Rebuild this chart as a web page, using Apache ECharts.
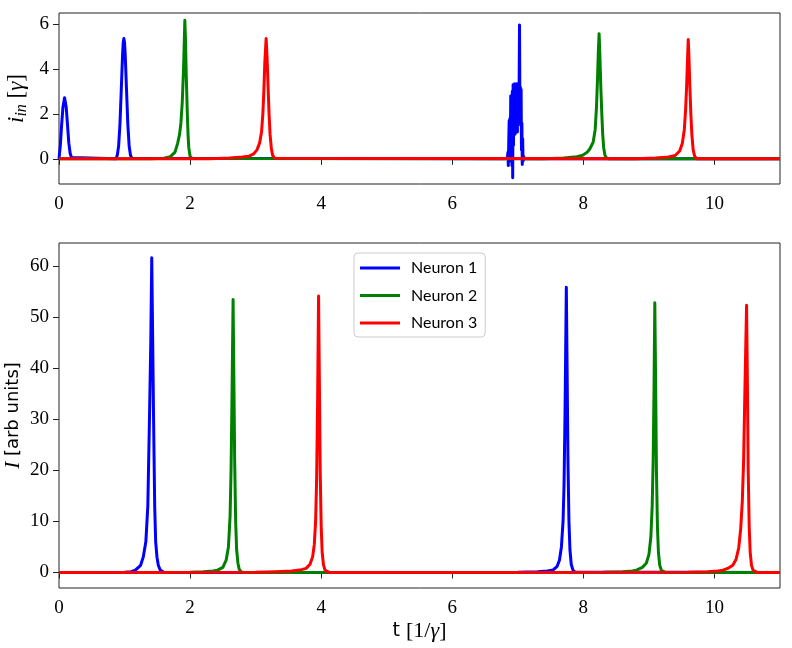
<!DOCTYPE html>
<html>
<head>
<meta charset="utf-8">
<script src="https://cdn.jsdelivr.net/npm/echarts@6/dist/echarts.min.js"></script>
<style>html,body{margin:0;padding:0;background:#fff}#c{width:792px;height:648px}</style>
</head>
<body>
<div id="c"></div>
<script>
// ---- data ----
const seriesNames = ['Neuron 1', 'Neuron 2', 'Neuron 3'];
const seriesColors = ['#0000ff', '#008000', '#ff0000'];
const xTicks = [0, 2, 4, 6, 8, 10];
const topYTicks = [0, 2, 4, 6];
const botYTicks = [0, 10, 20, 30, 40, 50, 60];

// top panel: input current i_in [gamma]
const top1 = [[0,0],[0.02,0.6],[0.04,1.5],[0.06,2.3],[0.085,2.72],[0.11,2.3],[0.13,1.5],[0.15,0.7],[0.17,0.25],[0.19,0.06],[0.21,0],
  [0.87,0],[0.89,0.17],[0.91,0.58],[0.93,1.55],[0.95,3.08],[0.97,4.66],[0.98,5.18],[0.99,5.36],[1.0,5.18],[1.01,4.66],[1.03,3.08],[1.05,1.55],[1.07,0.58],[1.09,0.17],[1.11,0.03],[1.13,0],
  [6.80,0],[6.84,0.05],[6.85,0.3],[6.855,-0.3],[6.862,0.8],[6.868,1.7],[6.874,-0.1],[6.88,1.8],[6.886,0.4],[6.892,2.8],[6.898,0.9],[6.904,2.7],[6.91,-0.3],[6.916,3.0],[6.922,-0.84],[6.928,3.3],[6.934,0.6],[6.94,3.2],[6.946,1.4],[6.952,3.35],[6.958,1.1],[6.964,3.3],[6.97,1.5],[6.976,3.2],[6.982,1.3],[6.988,3.35],[6.994,1.2],[7.0,3.3],[7.006,1.5],[7.012,3.2],[7.018,2.4],[7.026,5.96],[7.032,2.2],[7.038,3.2],[7.044,1.6],[7.05,3.1],[7.056,0.4],[7.062,1.6],[7.068,-0.25],[7.074,0.9],[7.08,-0.1],[7.09,0.1],[7.1,0],
  [11,0]];
const top2 = [[0,0],[1.4,0.01],[1.6,0.03],[1.7,0.1],[1.73,0.16],[1.77,0.3],[1.81,0.69],[1.84,1.1],[1.86,1.6],[1.88,2.5],[1.90,4.0],[1.91,5.1],[1.92,6.18],[1.93,5.3],[1.94,3.9],[1.95,2.8],[1.96,1.8],[1.97,1.0],[1.98,0.5],[2.0,0.12],[2.03,0.02],[2.06,0],
  [7.4,0.01],[7.7,0.04],[7.9,0.1],[7.99,0.16],[8.06,0.3],[8.1,0.45],[8.15,0.75],[8.18,1.3],[8.2,2.3],[8.215,3.5],[8.23,4.9],[8.24,5.58],[8.25,4.8],[8.265,3.3],[8.28,2.1],[8.295,1.1],[8.31,0.5],[8.33,0.15],[8.36,0.02],[8.4,0],
  [11,0]];
const top3 = [[0,0],[2.3,0.01],[2.6,0.04],[2.8,0.08],[2.9,0.12],[2.97,0.22],[3.02,0.4],[3.06,0.7],[3.09,1.2],[3.11,2.0],[3.125,3.0],[3.14,4.3],[3.16,5.36],[3.175,4.5],[3.19,3.2],[3.205,2.0],[3.22,1.1],[3.24,0.45],[3.26,0.15],[3.29,0.03],[3.32,0],
  [8.8,0.01],[9.1,0.04],[9.3,0.08],[9.4,0.15],[9.47,0.35],[9.51,0.7],[9.54,1.3],[9.56,2.2],[9.575,3.2],[9.59,4.5],[9.60,5.32],[9.61,4.6],[9.625,3.2],[9.64,2.0],[9.655,1.1],[9.675,0.4],[9.7,0.1],[9.73,0.01],[9.76,0],
  [11,0]];

// bottom panel: intensity I [arb units]
const bot1 = [[0,0],[1.0,0.05],[1.1,0.15],[1.165,0.45],[1.245,1.4],[1.285,3],[1.325,6],[1.355,13],[1.38,30],[1.40,45],[1.415,61.7],[1.43,45],[1.443,30],[1.46,13],[1.475,6],[1.495,3],[1.515,1.4],[1.545,0.45],[1.6,0.05],[1.65,0],
  [7.0,0.05],[7.3,0.15],[7.45,0.3],[7.54,0.5],[7.6,1.2],[7.635,2.4],[7.665,5],[7.69,10],[7.705,17],[7.72,31],[7.74,55.9],[7.752,40],[7.765,22],[7.78,10],[7.795,4.5],[7.815,1.6],[7.84,0.5],[7.87,0.08],[7.9,0],
  [11,0]];
const bot2 = [[0,0],[2.0,0.05],[2.2,0.15],[2.35,0.3],[2.42,0.45],[2.5,1.0],[2.55,2.4],[2.585,5],[2.61,11],[2.625,20],[2.64,35],[2.656,53.5],[2.668,38],[2.68,22],[2.695,10],[2.71,4.5],[2.73,1.8],[2.75,0.6],[2.78,0.1],[2.82,0],
  [8.3,0.05],[8.6,0.15],[8.75,0.3],[8.81,0.45],[8.9,1.0],[8.96,1.8],[9.0,3.5],[9.03,7],[9.05,13],[9.065,22],[9.078,36],[9.09,52.9],[9.102,38],[9.115,20],[9.13,9],[9.145,4],[9.165,1.4],[9.19,0.4],[9.22,0.05],[9.25,0],
  [11,0]];
const bot3 = [[0,0],[3.0,0.05],[3.3,0.15],[3.55,0.3],[3.7,0.55],[3.77,0.8],[3.83,1.6],[3.87,3.1],[3.895,5.5],[3.915,10],[3.93,18],[3.945,33],[3.96,54.2],[3.972,38],[3.985,20],[4.0,9],[4.015,4],[4.035,1.5],[4.06,0.4],[4.09,0.05],[4.12,0],
  [9.6,0.05],[9.9,0.15],[10.05,0.3],[10.13,0.45],[10.22,0.9],[10.28,1.4],[10.33,2.6],[10.37,4.8],[10.4,8.5],[10.425,14],[10.445,22],[10.465,36],[10.49,52.4],[10.502,38],[10.515,20],[10.53,9],[10.545,4],[10.565,1.4],[10.59,0.4],[10.62,0.05],[10.65,0],
  [11,0]];

const topData = [top1, top2, top3];
const botData = [bot1, bot2, bot3];

// ---- chart ----
const serif = 'Liberation Serif';
const sans = 'DejaVu Sans';
const axisCol = '#222';
function xAxisCfg(grid, withName) {
  const a = {
    type: 'value', gridIndex: grid, min: 0, max: 11,
    axisLine: { show: false },
    axisTick: { show: true, inside: false, length: 6, lineStyle: { color: axisCol, width: 1 }, customValues: xTicks },
    axisLabel: { customValues: xTicks, fontFamily: serif, fontSize: 19, color: '#000', margin: 11 },
    splitLine: { show: false }
  };
  if (withName) {
    a.name = '{s|t }{n|[1/}{g|γ}{n|]}';
    a.nameLocation = 'middle';
    a.nameGap = 32;
    a.nameMoveOverlap = false;
    a.nameTextStyle = { rich: {
      s: { fontFamily: sans, fontSize: 19, color: '#000' },
      n: { fontFamily: serif, fontSize: 22, color: '#000' },
      g: { fontFamily: serif, fontSize: 22, fontStyle: 'italic', color: '#000' }
    } };
  }
  return a;
}
function yAxisCfg(grid, min, max, ticks, name, gap, rich) {
  return {
    type: 'value', gridIndex: grid, min: min, max: max,
    axisLine: { show: false },
    axisTick: { show: true, inside: false, length: 6, lineStyle: { color: axisCol, width: 1 }, customValues: ticks },
    axisLabel: { customValues: ticks, fontFamily: serif, fontSize: 19, color: '#000', margin: 10 },
    splitLine: { show: false },
    name: name, nameLocation: 'middle', nameRotate: 90, nameGap: gap, nameMoveOverlap: false,
    nameTextStyle: { rich: rich }
  };
}

const series = [];
for (let k = 0; k < 3; k++) {
  series.push({
    name: seriesNames[k], type: 'line', xAxisIndex: 0, yAxisIndex: 0,
    data: topData[k], showSymbol: false, symbol: 'none',
    lineStyle: { color: seriesColors[k], width: 3, join: 'round' },
    itemStyle: { color: seriesColors[k] }, z: 2 + k
  });
}
for (let k = 0; k < 3; k++) {
  series.push({
    name: seriesNames[k], type: 'line', xAxisIndex: 1, yAxisIndex: 1,
    data: botData[k], showSymbol: false, symbol: 'none',
    lineStyle: { color: seriesColors[k], width: 3, join: 'round' },
    itemStyle: { color: seriesColors[k] }, z: 2 + k
  });
}

const chart = echarts.init(document.getElementById('c'), null, { renderer: 'canvas' });
chart.setOption({
  animation: false,
  backgroundColor: '#fff',
  grid: [
    { left: 59, top: 13, width: 721, height: 171, show: true, borderColor: axisCol, borderWidth: 1, backgroundColor: 'transparent', containLabel: false, outerBoundsMode: 'none' },
    { left: 59, top: 243, width: 721, height: 345, show: true, borderColor: axisCol, borderWidth: 1, backgroundColor: 'transparent', containLabel: false, outerBoundsMode: 'none' }
  ],
  xAxis: [xAxisCfg(0, false), xAxisCfg(1, true)],
  yAxis: [
    yAxisCfg(0, -1.12, 6.5, topYTicks, '{i|i}{sub|in}{n| [}{g|γ}{n|]}', 29, {
      i: { fontFamily: serif, fontSize: 23, fontStyle: 'italic', color: '#000' },
      sub: { fontFamily: serif, fontSize: 16, fontStyle: 'italic', color: '#000', padding: [10, 0, 0, 0] },
      n: { fontFamily: serif, fontSize: 23, color: '#000' },
      g: { fontFamily: serif, fontSize: 23, fontStyle: 'italic', color: '#000' }
    }),
    yAxisCfg(1, -3.05, 64.6, botYTicks, '{i|I}{s| [arb units]}', 35, {
      i: { fontFamily: serif, fontSize: 21, fontStyle: 'italic', color: '#000' },
      s: { fontFamily: sans, fontSize: 18, color: '#000' }
    })
  ],
  legend: {
    data: seriesNames, orient: 'vertical', left: 354, top: 253,
    icon: 'rect', itemWidth: 40, itemHeight: 3, itemGap: 7.5,
    padding: [5, 8, 4, 6],
    borderColor: '#cccccc', borderWidth: 1, borderRadius: 4,
    backgroundColor: 'rgba(255,255,255,0.85)',
    textStyle: { fontFamily: 'Lato', fontSize: 16, color: '#000', lineHeight: 20, padding: [0, 0, 0, 6] }
  },
  series: series
});
</script>
</body>
</html>
